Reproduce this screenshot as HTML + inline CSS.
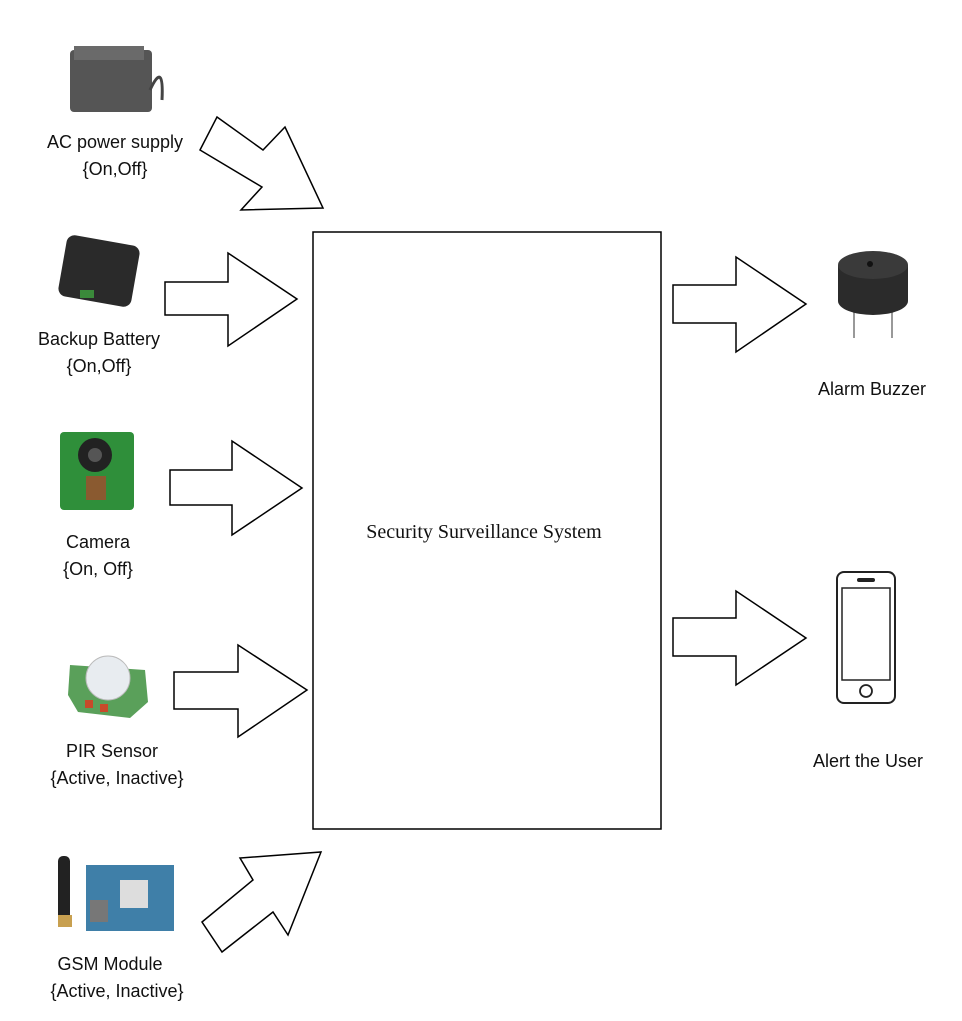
<!DOCTYPE html>
<html><head><meta charset="utf-8"><style>
html,body{margin:0;padding:0;background:#fff;}
svg{display:block;}
text{font-family:"Liberation Sans",sans-serif;font-size:18px;fill:#111;}
</style></head><body>
<svg width="962" height="1021" viewBox="0 0 962 1021" xmlns="http://www.w3.org/2000/svg">
<rect width="962" height="1021" fill="#fff"/>
<g fill="#fff" stroke="#000" stroke-width="1.5" stroke-linejoin="miter">
<polygon points="217,117 263,150 285,127 323,208 241,210 262,187 200,150"/>
<polygon points="165,282 228,282 228,253 297,299 228,346 228,315 165,315"/>
<polygon points="170,470 232,470 232,441 302,488 232,535 232,505 170,505"/>
<polygon points="174,672 238,672 238,645 307,690 238,737 238,709 174,709"/>
<polygon points="202,922 253,880 240,858 321,852 288,935 273,912 222,952"/>
<polygon points="673,285 736,285 736,257 806,304 736,352 736,323 673,323"/>
<polygon points="673,618 736,618 736,591 806,638 736,685 736,656 673,656"/>
</g>
<rect x="313" y="232" width="348" height="597" fill="#fff" stroke="#000" stroke-width="1.5"/>
<text x="484" y="538" text-anchor="middle" style="font-family:'Liberation Serif',serif;font-size:20px">Security Surveillance System</text>

<!-- AC supply -->
<rect x="70" y="50" width="82" height="62" rx="4" fill="#555"/>
<rect x="74" y="46" width="70" height="14" fill="#6a6a6a"/>
<path d="M150 90 q14 -30 12 10" stroke="#444" stroke-width="3" fill="none"/>
<text x="115" y="148" text-anchor="middle">AC power supply</text>
<text x="115" y="175" text-anchor="middle">{On,Off}</text>
<!-- Battery -->
<rect x="62" y="240" width="74" height="62" rx="8" fill="#2a2a2a" transform="rotate(10 99 271)"/>
<rect x="80" y="290" width="14" height="8" fill="#3a8a3a"/>
<text x="99" y="345" text-anchor="middle">Backup Battery</text>
<text x="99" y="372" text-anchor="middle">{On,Off}</text>
<!-- Camera -->
<rect x="60" y="432" width="74" height="78" rx="4" fill="#2f8f3a"/>
<circle cx="95" cy="455" r="17" fill="#222"/>
<circle cx="95" cy="455" r="7" fill="#555"/>
<rect x="86" y="476" width="20" height="24" fill="#8a5a30"/>
<text x="98" y="548" text-anchor="middle">Camera</text>
<text x="98" y="575" text-anchor="middle">{On, Off}</text>
<!-- PIR -->
<polygon points="70,665 145,670 148,702 130,718 78,712 68,695" fill="#5aa05a"/>
<circle cx="108" cy="678" r="22" fill="#e8ecf0" stroke="#bbb"/>
<rect x="85" y="700" width="8" height="8" fill="#c84a2a"/>
<rect x="100" y="704" width="8" height="8" fill="#c84a2a"/>
<text x="112" y="757" text-anchor="middle">PIR Sensor</text>
<text x="117" y="784" text-anchor="middle">{Active, Inactive}</text>
<!-- GSM -->
<rect x="58" y="856" width="12" height="66" rx="5" fill="#222"/>
<rect x="58" y="915" width="14" height="12" fill="#c8a050"/>
<rect x="86" y="865" width="88" height="66" fill="#3f7fa8"/>
<rect x="120" y="880" width="28" height="28" fill="#ddd"/>
<rect x="90" y="900" width="18" height="22" fill="#777"/>
<text x="110" y="970" text-anchor="middle">GSM Module</text>
<text x="117" y="997" text-anchor="middle">{Active, Inactive}</text>
<!-- Buzzer -->
<line x1="854" y1="310" x2="854" y2="338" stroke="#999" stroke-width="2"/>
<line x1="892" y1="310" x2="892" y2="338" stroke="#999" stroke-width="2"/>
<path d="M838 265 v36 a35 14 0 0 0 70 0 v-36 z" fill="#2b2b2b"/>
<ellipse cx="873" cy="265" rx="35" ry="14" fill="#3a3a3a"/>
<circle cx="870" cy="264" r="3" fill="#111"/>
<text x="872" y="395" text-anchor="middle">Alarm Buzzer</text>
<!-- Phone -->
<rect x="837" y="572" width="58" height="131" rx="7" fill="#fff" stroke="#222" stroke-width="2"/>
<rect x="842" y="588" width="48" height="92" fill="#fff" stroke="#222" stroke-width="1.5"/>
<rect x="857" y="578" width="18" height="4" rx="2" fill="#222"/>
<circle cx="866" cy="691" r="6" fill="none" stroke="#222" stroke-width="1.8"/>
<text x="868" y="767" text-anchor="middle">Alert the User</text>
</svg>
</body></html>
